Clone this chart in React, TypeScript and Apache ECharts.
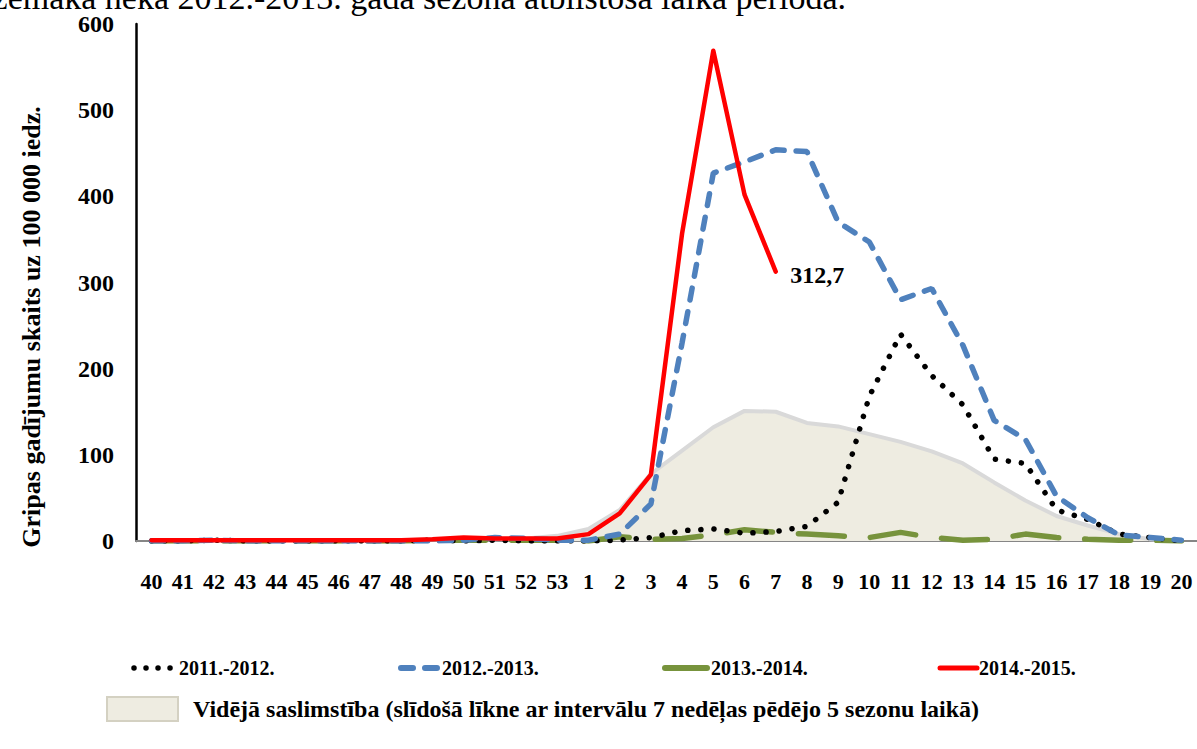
import React, { useEffect, useRef } from "react";
import * as echarts from "echarts";

const weeks = [
  "40", "41", "42", "43", "44", "45", "46", "47", "48", "49", "50", "51", "52", "53",
  "1", "2", "3", "4", "5", "6", "7", "8", "9", "10", "11", "12", "13", "14", "15", "16", "17", "18", "19", "20",
];

const season1112 = [
  0, 0, 1, 0, 0, 0, 0, 0, 0, 1, 0, 1, 0, 0,
  0, 1, 4, 12, 14, 9, 11, 17, 45, 168, 240, 192, 158, 95, 90, 36, 25, 8, 4, 0,
];

const season1213 = [
  0, 0, 1, 0, 0, 0, 0, 0, 0, 0, 1, 4, 3, 1,
  1, 8, 43, 230, 427, 440, 454, 452, 370, 347, 280, 293, 227, 140, 118, 52, 27, 7, 4, 1,
];

const season1314 = [
  0, 0, 0, 0, 0, 0, 0, 0, 0, 1, 1, 1, 1, 1,
  0, 5, 2, 3, 7, 13, 10, 8, 6, 4, 10, 4, 1, 2, 8, 4, 2, 1, 1, 0,
];

const season1415: (number | null)[] = [
  1, 1, 1, 1, 1, 1, 1, 1, 1, 2, 4, 3, 3, 3,
  8, 32, 77, 357, 569, 402, 312.7,
  null, null, null, null, null, null, null, null, null, null, null, null, null,
];

const averageCurve = [
  1, 1, 1, 1, 1, 1, 1, 1, 1, 2, 2, 2, 3, 6,
  14, 36, 78, 105, 132, 151, 150, 137, 133, 124, 115, 104, 90, 68, 47, 29, 18, 8, 2, 0,
];

const yTicks = { min: 0, max: 600, interval: 100 };

const seriesNames = ["2011.-2012.", "2012.-2013.", "2013.-2014.", "2014.-2015."];
const averageName =
  "Vidējā saslimstība (slīdošā līkne ar intervālu 7 nedēļas pēdējo 5 sezonu laikā)";
const yAxisName = "Gripas gadījumu skaits uz 100 000 iedz.";
const topText = "zemāka nekā 2012.-2013. gada sezonā atbilstošā laika periodā.";

const SERIF = '"Liberation Serif", "Times New Roman", serif';

export default function App() {
  const ref = useRef<HTMLDivElement>(null);

  useEffect(() => {
    if (!ref.current) return;
    const chart = echarts.init(ref.current, null, { renderer: "svg" });

    let lastRed = -1;
    season1415.forEach((v, i) => {
      if (v != null) lastRed = i;
    });

    const legendY = 668;
    const legendFont = `bold 20px ${SERIF}`;

    chart.setOption({
      animation: false,
      backgroundColor: "#ffffff",
      grid: { left: 136, right: 0, top: 24, bottom: 208, containLabel: false },
      xAxis: {
        type: "category",
        data: weeks,
        boundaryGap: true,
        axisLine: { show: true, lineStyle: { color: "#868686", width: 2 } },
        axisTick: { show: false },
        axisLabel: {
          interval: 0,
          margin: 29,
          color: "#000",
          fontFamily: SERIF,
          fontWeight: "bold",
          fontSize: 22,
        },
        splitLine: { show: false },
      },
      yAxis: {
        type: "value",
        min: yTicks.min,
        max: yTicks.max,
        interval: yTicks.interval,
        axisLine: { show: true, lineStyle: { color: "#000", width: 2.5 } },
        axisTick: { show: false },
        axisLabel: {
          margin: 22,
          color: "#000",
          fontFamily: SERIF,
          fontWeight: "bold",
          fontSize: 24,
        },
        splitLine: { show: false },
      },
      series: [
        {
          name: averageName,
          type: "line",
          data: averageCurve,
          symbol: "none",
          lineStyle: { color: "#D9D9D9", width: 4 },
          areaStyle: { color: "#EEECE1", opacity: 1 },
          z: 1,
        },
        {
          name: seriesNames[2],
          type: "line",
          data: season1314,
          symbol: "none",
          lineStyle: { color: "#77933C", width: 5.5, type: [46, 26], cap: "round" },
          z: 2,
        },
        {
          name: seriesNames[0],
          type: "line",
          data: season1112,
          symbol: "none",
          lineStyle: { color: "#000000", width: 5.5, type: [0.1, 13], cap: "round" },
          z: 3,
        },
        {
          name: seriesNames[1],
          type: "line",
          data: season1213,
          symbol: "none",
          lineStyle: { color: "#4F81BD", width: 5.5, type: [12, 12], cap: "round" },
          z: 4,
        },
        {
          name: seriesNames[3],
          type: "line",
          data: season1415.map((v, i) =>
            i === lastRed
              ? {
                  value: v,
                  symbol: "circle",
                  symbolSize: 1,
                  itemStyle: { color: "#FF0000" },
                  label: {
                    show: true,
                    position: "right",
                    distance: 14,
                    offset: [0, 3],
                    color: "#000",
                    fontFamily: SERIF,
                    fontWeight: "bold",
                    fontSize: 24,
                    formatter: (p: any) => String(p.value).replace(".", ","),
                  },
                }
              : v
          ),
          symbol: "none",
          showSymbol: true,
          lineStyle: { color: "#FF0000", width: 4.5, cap: "round", join: "round" },
          itemStyle: { color: "#FF0000" },
          z: 5,
        },
      ],
      graphic: [
        {
          type: "text",
          x: 846,
          y: 14,
          style: {
            text: topText,
            font: `34px ${SERIF}`,
            fill: "#000",
            align: "right",
            verticalAlign: "bottom",
          },
        },
        {
          type: "text",
          x: 31,
          y: 327,
          rotation: Math.PI / 2,
          style: {
            text: yAxisName,
            font: `bold 26px ${SERIF}`,
            fill: "#000",
            align: "center",
            verticalAlign: "middle",
          },
        },
        // legend row 1
        {
          type: "line",
          shape: { x1: 134, y1: legendY, x2: 171, y2: legendY },
          style: { stroke: "#000", lineWidth: 5.5, lineDash: [0.01, 12], lineCap: "round" },
        },
        {
          type: "text",
          x: 179,
          y: legendY,
          style: { text: seriesNames[0], font: legendFont, fill: "#000", verticalAlign: "middle" },
        },
        {
          type: "line",
          shape: { x1: 401, y1: legendY, x2: 437, y2: legendY },
          style: { stroke: "#4F81BD", lineWidth: 6, lineDash: [12, 12], lineCap: "round" },
        },
        {
          type: "text",
          x: 442,
          y: legendY,
          style: { text: seriesNames[1], font: legendFont, fill: "#000", verticalAlign: "middle" },
        },
        {
          type: "line",
          shape: { x1: 665, y1: legendY, x2: 707, y2: legendY },
          style: { stroke: "#77933C", lineWidth: 6, lineCap: "round" },
        },
        {
          type: "text",
          x: 711,
          y: legendY,
          style: { text: seriesNames[2], font: legendFont, fill: "#000", verticalAlign: "middle" },
        },
        {
          type: "line",
          shape: { x1: 940, y1: legendY, x2: 977, y2: legendY },
          style: { stroke: "#FF0000", lineWidth: 5, lineCap: "round" },
        },
        {
          type: "text",
          x: 979,
          y: legendY,
          style: { text: seriesNames[3], font: legendFont, fill: "#000", verticalAlign: "middle" },
        },
        // legend row 2
        {
          type: "rect",
          shape: { x: 107, y: 697, width: 71, height: 24 },
          style: { fill: "#EEECE1", stroke: "#D4D1C2", lineWidth: 2 },
        },
        {
          type: "text",
          x: 193,
          y: 709,
          style: {
            text: averageName,
            font: `bold 24px ${SERIF}`,
            fill: "#000",
            verticalAlign: "middle",
          },
        },
      ],
    });

    return () => chart.dispose();
  }, []);

  return (
    <div
      ref={ref}
      style={{ position: "fixed", left: 0, top: 0, width: 1197, height: 749, background: "#fff" }}
    />
  );
}
